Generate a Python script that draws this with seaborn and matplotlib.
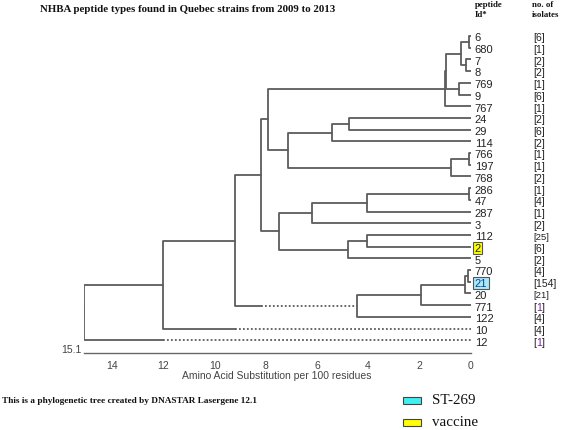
import matplotlib
matplotlib.use("Agg")
import matplotlib.pyplot as plt
from matplotlib.patches import Rectangle
import seaborn as sns
import pandas as pd

# leaves, top to bottom
leaf_ids = ["6", "680", "7", "8", "769", "9", "767", "24", "29", "114", "766", "197", "768",
            "286", "47", "287", "3", "112", "2", "5", "770", "21", "20", "771", "122", "10", "12"]
isolates = ["6", "1", "2", "2", "1", "6", "1", "2", "6", "2", "1", "1", "2",
            "1", "4", "1", "2", "25", "6", "2", "4", "154", "21", "1", "4", "4", "1"]
purple_ids = ["771", "12"]
vaccine_ids = ["2"]
st269_ids = ["21"]

# internal nodes (upper child, lower child, height in substitutions per 100 residues)
node_names = ["a1", "a2", "a3", "a4", "T", "U", "F", "E", "g1", "G", "D", "C",
              "K", "L", "J", "N", "M", "I", "H", "s1", "S", "R", "Q", "O", "P", "root"]
node_upper = ["6", "7", "a1", "769", "a3", "T", "24", "F", "766", "g1", "E", "U",
              "286", "K", "L", "112", "N", "J", "C", "770", "s1", "S", "R", "H", "O", "P"]
node_lower = ["680", "8", "a2", "9", "a4", "767", "29", "114", "197", "768", "G", "D",
              "47", "287", "3", "2", "5", "M", "I", "21", "20", "771", "122", "Q", "10", "12"]
node_height = [0.05, 0.19, 0.38, 0.45, 0.95, 0.99, 4.75, 5.41, 0.05, 0.77, 7.13, 7.91,
               0.05, 4.04, 6.19, 4.03, 4.79, 7.48, 8.18, 0.08, 0.21, 1.94, 4.43, 9.21, 12.0, 15.1]
# branch to the lower child turns dotted past this height
dotted_node = ["O", "P", "root"]
dotted_from = [8.18, 9.21, 12.0]

line_col = "#5c5c5c"

pos = {name: (0.0, float(i)) for i, name in enumerate(leaf_ids)}
rows = []
for k, name in enumerate(node_names):
    h = node_height[k]
    hu, yu = pos[node_upper[k]]
    hl, yl = pos[node_lower[k]]
    pos[name] = (h, (yu + yl) / 2)
    if name in dotted_node:
        cut = dotted_from[dotted_node.index(name)]
        path = [(hu, yu), (h, yu), (h, yl), (cut, yl)]
        rows += [dict(seg=name + "_d", x=x, y=y, kind="dotted") for x, y in [(cut, yl), (hl, yl)]]
    else:
        path = [(hu, yu), (h, yu), (h, yl), (hl, yl)]
    rows += [dict(seg=name, x=x, y=y, kind="solid") for x, y in path]

root_h, root_y = pos["root"]
rows += [dict(seg="stub", x=x, y=root_y, kind="solid") for x in (root_h, root_h + 0.18)]
seg_df = pd.DataFrame(rows)

sns.set_theme(style="white")
plt.rcParams["font.family"] = ["Liberation Sans", "DejaVu Sans"]

fig = plt.figure(figsize=(5.67, 4.31), dpi=100)
ax = fig.add_axes([84 / 567, 1 - 354 / 431, (470.5 - 84) / 567, (354 - 25.3) / 431])

sns.lineplot(data=seg_df, x="x", y="y", units="seg", style="kind", estimator=None, sort=False,
             color=line_col, linewidth=1.3, dashes={"solid": "", "dotted": (1, 1.2)},
             legend=False, ax=ax)

ax.set_xlim(15.1, 0)
ax.set_ylim(27.09, -1)
ax.set_yticks([])
ax.set_xticks([14, 12, 10, 8, 6, 4, 2, 0])
ax.tick_params(axis="x", direction="out", length=3, width=1, color="#666666",
               labelsize=7.5, labelcolor="#444444", pad=2)
ax.set_xlabel("Amino Acid Substitution per 100 residues", fontsize=7.5, color="#444444", labelpad=0)
ax.set_ylabel("")
sns.despine(ax=ax, left=True)
ax.spines["bottom"].set_color("#666666")
ax.spines["bottom"].set_linewidth(1)
ax.annotate("15.1", xy=(15.1, 0), xycoords=("data", "axes fraction"), xytext=(-2, -1),
            textcoords="offset points", ha="right", va="bottom", fontsize=7.5, color="#444444")

for i, (lid, cnt) in enumerate(zip(leaf_ids, isolates)):
    box = None
    col = "#222222"
    if lid in vaccine_ids:
        box = dict(boxstyle="square,pad=0.12", fc="#ffff00", ec="#555555", lw=0.8)
    if lid in st269_ids:
        box = dict(boxstyle="square,pad=0.12", fc="#a6ecf7", ec="#555555", lw=0.8)
        col = "#1a3a9a"
    ax.annotate(lid, xy=(0, i), xytext=(3, -1), textcoords="offset points", ha="left",
                va="center", fontsize=8, color=col, bbox=box, annotation_clip=False)
    fs = 6.8 if len(cnt) == 2 else 7.5
    if lid in purple_ids:
        t1 = ax.annotate("[", xy=(0, i), xytext=(45, -1), textcoords="offset points",
                         ha="left", va="center", fontsize=7.5, color="#222222", annotation_clip=False)
        t2 = ax.annotate(cnt, xy=(1, 0.5), xycoords=t1, ha="left", va="center",
                         fontsize=7.5, color="#7a1a9a")
        ax.annotate("]", xy=(1, 0.5), xycoords=t2, ha="left", va="center",
                    fontsize=7.5, color="#222222")
    else:
        ax.annotate("[" + cnt + "]", xy=(0, i), xytext=(45, -1), textcoords="offset points",
                    ha="left", va="center", fontsize=fs, color="#222222", annotation_clip=False)

serif = ["Liberation Serif", "DejaVu Serif"]
fig.text(40 / 567, 1 - 10 / 431, "NHBA peptide types found in Quebec strains from 2009 to 2013",
         fontsize=7.8, fontweight="bold", family=serif, va="center", ha="left", color="#111111")
fig.text(475 / 567, 1 - 10 / 431, "peptide\nId*", fontsize=6.3, fontweight="bold", family=serif,
         va="center", ha="left", linespacing=1.35, color="#111111")
fig.text(532 / 567, 1 - 10 / 431, "no. of\nisolates", fontsize=6.3, fontweight="bold", family=serif,
         va="center", ha="left", linespacing=1.35, color="#111111")
fig.text(2 / 567, 1 - 401 / 431, "This is a phylogenetic tree created by DNASTAR Lasergene 12.1",
         fontsize=6.7, fontweight="bold", family=serif, va="center", ha="left", color="#111111")

legend_labels = ["ST-269", "vaccine"]
legend_colors = ["#3ff0f0", "#ffff00"]
legend_y = [401, 423]
for lab, c, yy in zip(legend_labels, legend_colors, legend_y):
    fig.add_artist(Rectangle((403 / 567, 1 - (yy + 3.5) / 431), 18 / 567, 7 / 431,
                             transform=fig.transFigure, fc=c, ec="#444444", lw=0.8))
    fig.text(432 / 567, 1 - yy / 431, lab, fontsize=10.8, family=serif, va="center", ha="left",
             color="#111111")

fig.savefig("out.png", dpi=100)
